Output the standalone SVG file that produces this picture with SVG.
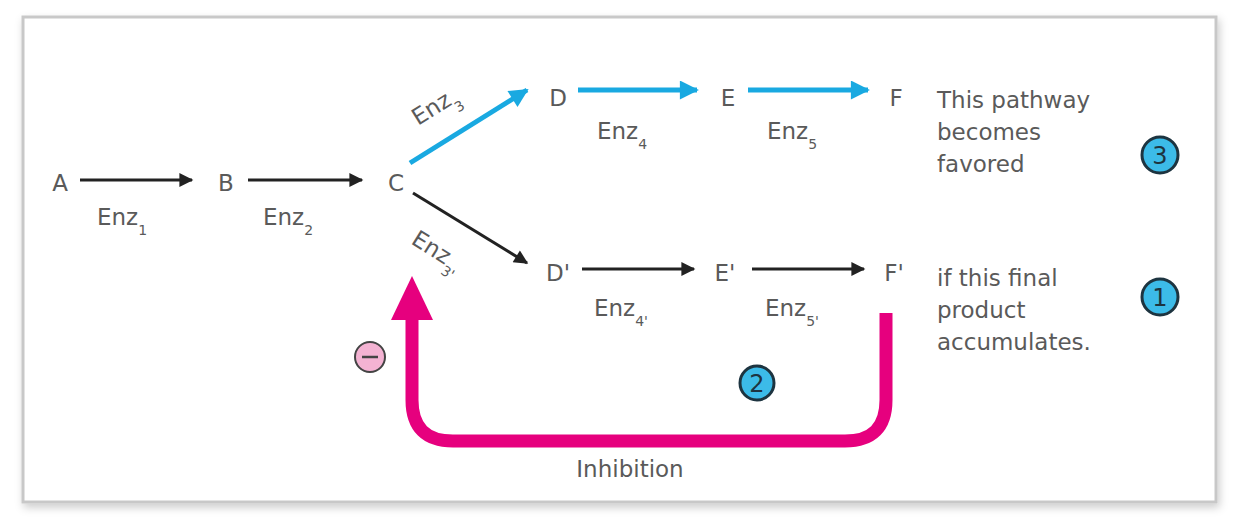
<svg xmlns="http://www.w3.org/2000/svg" width="1256" height="528" viewBox="0 0 1256 528">
<defs>
<style>
.t{font-family:"DejaVu Sans","Liberation Sans",sans-serif;font-size:23px;fill:#5a5a5a}
.s{font-size:14px}
.blk{stroke:#222;stroke-width:3;fill:none}
.blu{stroke:#19a9e1;stroke-width:5;fill:none}
.num{fill:#3cbbe8;stroke:#1d3440;stroke-width:3}
.nt{font-family:"DejaVu Sans","Liberation Sans",sans-serif;font-size:24px;fill:#1d3440;text-anchor:middle}
</style>
<marker id="ablk" viewBox="0 0 10 10" refX="9" refY="5" markerWidth="28" markerHeight="14" markerUnits="userSpaceOnUse" orient="auto"><path d="M0,0 L10,5 L0,10 Z" fill="#222"/></marker>
<marker id="abl" viewBox="0 0 10 10" refX="9" refY="5" markerWidth="32" markerHeight="19" markerUnits="userSpaceOnUse" orient="auto"><path d="M0,0 L10,5 L0,10 Z" fill="#19a9e1"/></marker>
<filter id="sh" x="-5%" y="-5%" width="110%" height="115%"><feDropShadow dx="2" dy="4" stdDeviation="4" flood-color="#000" flood-opacity="0.2"/></filter>
</defs>
<rect width="1256" height="528" fill="#fff"/>
<rect x="23" y="17" width="1193" height="485" fill="#fff" stroke="#c8c8c8" stroke-width="3" filter="url(#sh)"/>

<g id="connectors">
<line class="blk" x1="80" y1="180" x2="192" y2="180" marker-end="url(#ablk)"/>
<line class="blk" x1="248" y1="180" x2="362" y2="180" marker-end="url(#ablk)"/>
<line class="blk" x1="413" y1="193" x2="527" y2="263" marker-end="url(#ablk)"/>
<line class="blk" x1="582" y1="269" x2="694" y2="269" marker-end="url(#ablk)"/>
<line class="blk" x1="752" y1="269" x2="864" y2="269" marker-end="url(#ablk)"/>
<line class="blu" x1="410" y1="163" x2="527" y2="90" marker-end="url(#abl)"/>
<line class="blu" x1="578" y1="90" x2="697" y2="90" marker-end="url(#abl)"/>
<line class="blu" x1="748" y1="90" x2="868" y2="90" marker-end="url(#abl)"/>
<path d="M886,313 L886,400 Q886,441 845,441 L453,441 Q412,441 412,400 L412,316" stroke="#e6007e" stroke-width="13" fill="none"/>
<path d="M391,320 L412,276 L433,320 Z" fill="#e6007e"/>
</g>

<g id="A"><text class="t" x="60" y="191" text-anchor="middle">A</text></g>
<g id="B"><text class="t" x="226" y="191" text-anchor="middle">B</text></g>
<g id="C"><text class="t" x="396" y="191" text-anchor="middle">C</text></g>
<g id="D"><text class="t" x="558" y="106" text-anchor="middle">D</text></g>
<g id="E"><text class="t" x="728" y="106" text-anchor="middle">E</text></g>
<g id="F"><text class="t" x="896" y="106" text-anchor="middle">F</text></g>
<g id="Dp"><text class="t" x="558" y="281" text-anchor="middle">D'</text></g>
<g id="Ep"><text class="t" x="725" y="281" text-anchor="middle">E'</text></g>
<g id="Fp"><text class="t" x="894" y="281" text-anchor="middle">F'</text></g>

<g id="enz">
<text class="t" x="97" y="225">Enz<tspan class="s" dy="10">1</tspan></text>
<text class="t" x="263" y="225">Enz<tspan class="s" dy="10">2</tspan></text>
<text class="t" transform="translate(418,126) rotate(-32)">Enz<tspan class="s" dy="10">3</tspan></text>
<text class="t" transform="translate(410,243) rotate(32)">Enz<tspan class="s" dy="10">3'</tspan></text>
<text class="t" x="597" y="139">Enz<tspan class="s" dy="10">4</tspan></text>
<text class="t" x="767" y="139">Enz<tspan class="s" dy="10">5</tspan></text>
<text class="t" x="594" y="316">Enz<tspan class="s" dy="10">4'</tspan></text>
<text class="t" x="765" y="316">Enz<tspan class="s" dy="10">5'</tspan></text>
</g>

<g id="note-top">
<text class="t" x="937" y="108">This pathway</text>
<text class="t" x="937" y="140">becomes</text>
<text class="t" x="937" y="172">favored</text>
</g>
<g id="note-bottom">
<text class="t" x="937" y="286">if this final</text>
<text class="t" x="937" y="318">product</text>
<text class="t" x="937" y="350">accumulates.</text>
</g>
<g id="inhibition-label"><text class="t" x="630" y="477" text-anchor="middle">Inhibition</text></g>

<g id="n3"><circle class="num" cx="1160" cy="155" r="18"/><text class="nt" x="1160" y="164">3</text></g>
<g id="n1"><circle class="num" cx="1160" cy="297" r="18"/><text class="nt" x="1160" y="306">1</text></g>
<g id="n2"><circle class="num" cx="757" cy="383" r="17"/><text class="nt" x="757" y="392">2</text></g>
<g id="minus"><circle cx="370" cy="357" r="15" fill="#f4b3d3" stroke="#444" stroke-width="2"/><line x1="362" y1="357" x2="378" y2="357" stroke="#444" stroke-width="2.5"/></g>
</svg>
